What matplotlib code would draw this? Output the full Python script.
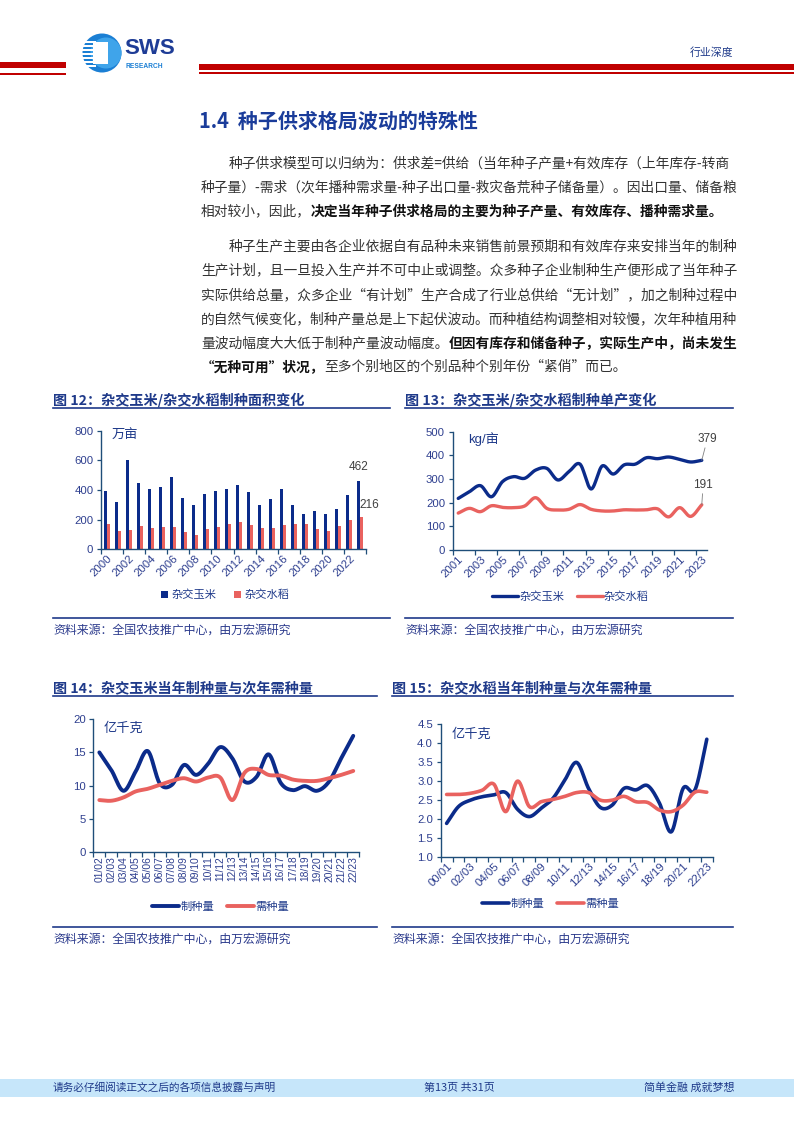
import numpy as np
import matplotlib
matplotlib.use("Agg")
import matplotlib.pyplot as plt
from matplotlib.patches import Rectangle, Circle

plt.rcParams['font.family'] = ['Noto Sans CJK SC', 'DejaVu Sans']
NUMF = ['Liberation Sans', 'Noto Sans CJK SC']

# ---------------- data ----------------
years12 = [str(y) for y in range(2000, 2024)]
corn_area = [390, 322, 600, 450, 405, 422, 487, 345, 300, 376, 390, 410, 435, 384,
             296, 342, 410, 296, 238, 256, 236, 275, 365, 462]
rice_area = [170, 122, 132, 156, 142, 150, 150, 115, 97, 135, 150, 169, 182, 164,
             142, 146, 164, 169, 171, 139, 121, 160, 198, 216]

years13 = [str(y) for y in range(2001, 2024)]
corn_yield = [218, 246, 272, 225, 289, 310, 303, 338, 345, 296, 331, 363, 258, 355,
              321, 360, 363, 390, 386, 393, 383, 372, 379]
rice_yield = [156, 176, 162, 187, 180, 179, 186, 221, 176, 169, 172, 192, 172, 165,
              165, 170, 169, 170, 174, 140, 179, 142, 191]

seasons14 = ['01/02', '02/03', '03/04', '04/05', '05/06', '06/07', '07/08', '08/09',
             '09/10', '10/11', '11/12', '12/13', '13/14', '14/15', '15/16', '16/17',
             '17/18', '18/19', '19/20', '20/21', '21/22', '22/23']
corn_prod = [15.0, 12.3, 9.2, 12.1, 15.2, 10.3, 10.1, 13.1, 11.6, 13.3, 15.8, 14.1,
             10.6, 11.3, 14.7, 10.4, 9.3, 9.9, 9.2, 10.6, 14.1, 17.5]
corn_need = [7.8, 7.7, 8.2, 9.1, 9.5, 10.1, 10.7, 11.1, 10.6, 11.2, 11.2, 7.8,
             11.9, 12.5, 11.6, 11.5, 10.9, 10.7, 10.7, 11.1, 11.6, 12.2]

seasons15 = ['00/01', '01/02', '02/03', '03/04', '04/05', '05/06', '06/07', '07/08',
             '08/09', '09/10', '10/11', '11/12', '12/13', '13/14', '14/15', '15/16',
             '16/17', '17/18', '18/19', '19/20', '20/21', '21/22', '22/23']
rice_prod = [1.89, 2.33, 2.50, 2.59, 2.64, 2.70, 2.26, 2.07, 2.29, 2.55, 3.03, 3.49,
             2.81, 2.31, 2.37, 2.81, 2.77, 2.88, 2.42, 1.67, 2.81, 2.77, 4.10]
rice_need = [2.65, 2.65, 2.68, 2.76, 2.92, 2.20, 3.00, 2.33, 2.46, 2.52, 2.60, 2.70,
             2.70, 2.50, 2.50, 2.60, 2.46, 2.44, 2.24, 2.20, 2.37, 2.71, 2.71]

# ---------------- styles ----------------
W, H = 794, 1123
NAVY = '#1F3A8A'
TICK_C = '#2E3F8F'
SPINE_C = '#1F4E79'
BLUE = '#0B2B8A'
RED = '#E9625F'
BODY = '#333333'

fig = plt.figure(figsize=(W / 100, H / 100), dpi=100)
bg = fig.add_axes([0, 0, 1, 1])
bg.set_xlim(0, W)
bg.set_ylim(H, 0)
bg.axis('off')


def rect_ax(x0, y0, x1, y1):
    return fig.add_axes([x0 / W, 1 - y1 / H, (x1 - x0) / W, (y1 - y0) / H])


def smooth(x, y, n=24):
    P = np.column_stack([np.asarray(x, float), np.asarray(y, float)])
    P = np.vstack([2 * P[0] - P[1], P, 2 * P[-1] - P[-2]])
    out = []
    t = np.linspace(0, 1, n, endpoint=False)[:, None]
    for i in range(1, len(P) - 2):
        p0, p1, p2, p3 = P[i - 1], P[i], P[i + 1], P[i + 2]
        out.append(0.5 * ((2 * p1) + (-p0 + p2) * t + (2 * p0 - 5 * p1 + 4 * p2 - p3) * t ** 2
                          + (-p0 + 3 * p1 - 3 * p2 + p3) * t ** 3))
    out.append(P[-2][None, :])
    a = np.vstack(out)
    return a[:, 0], a[:, 1]


def style_ax(ax):
    ax.set_facecolor('none')
    for s in ['top', 'right']:
        ax.spines[s].set_visible(False)
    for s in ['left', 'bottom']:
        ax.spines[s].set_color(SPINE_C)
        ax.spines[s].set_linewidth(1.0)
    ax.tick_params(axis='y', direction='out', length=3, width=0.9, color=SPINE_C,
                   labelsize=8.2, labelcolor=TICK_C, pad=2.5)
    ax.tick_params(axis='x', which='major', length=0, labelcolor=TICK_C, pad=3)
    ax.tick_params(axis='x', which='minor', direction='out', length=3.5, width=0.9,
                   color=SPINE_C)


# ---------------- header ----------------
bg.add_patch(Rectangle((0, 62), 66, 5.5, color='#C00000', lw=0))
bg.add_patch(Rectangle((0, 72.5), 66, 2, color='#C00000', lw=0))
bg.add_patch(Rectangle((199, 64), W - 199, 6, color='#C00000', lw=0))
bg.add_patch(Rectangle((199, 71.8), W - 199, 2, color='#C00000', lw=0))
# logo
bg.add_patch(Circle((102, 53), 19.5, color='#1B7FD4', lw=0))
bg.add_patch(Circle((106, 53), 15.5, color='#3FA4EA', lw=0))
bg.add_patch(Rectangle((93, 42), 15, 22, color='white', lw=0))
for yy in [41, 45, 49, 53, 57, 61, 65]:
    bg.add_patch(Rectangle((82, yy), 14, 1.6, color='white', lw=0))
bg.text(124, 49, 'SWS', fontsize=16, fontweight='bold', color='#1E3C96',
        family=['Liberation Sans'], ha='left', va='center')
bg.text(126, 66, 'RESEARCH', fontsize=4.8, fontweight='bold', color='#1B7FD4',
        family=['Liberation Sans'], ha='left', va='center')
bg.text(733, 53, '行业深度', fontsize=7.8, color=NAVY, ha='right', va='center')

# ---------------- section title & body ----------------
bg.text(199, 121, '1.4  种子供求格局波动的特殊性', fontsize=14.4, fontweight='bold',
        color='#1A3C9A', ha='left', va='center')

renderer = fig.canvas.get_renderer()
FS = 9.9


def seg_line(x, y, segs):
    for txt, bold in segs:
        t = bg.text(x, y, txt, fontsize=FS, fontweight='bold' if bold else 'normal',
                    color='#111111' if bold else BODY, ha='left', va='center')
        bb = t.get_window_extent(renderer)
        x += bb.width


lines = [
    (229, 163.3, [('种子供求模型可以归纳为：供求差=供给（当年种子产量+有效库存（上年库存-转商', False)]),
    (201, 187.3, [('种子量）-需求（次年播种需求量-种子出口量-救灾备荒种子储备量）。因出口量、储备粮', False)]),
    (201, 211.7, [('相对较小，因此，', False), ('决定当年种子供求格局的主要为种子产量、有效库存、播种需求量。', True)]),
    (229, 246.7, [('种子生产主要由各企业依据自有品种未来销售前景预期和有效库存来安排当年的制种', False)]),
    (201, 270.7, [('生产计划，且一旦投入生产并不可中止或调整。众多种子企业制种生产便形成了当年种子', False)]),
    (201, 295.0, [('实际供给总量，众多企业“有计划”生产合成了行业总供给“无计划”，加之制种过程中', False)]),
    (201, 319.0, [('的自然气候变化，制种产量总是上下起伏波动。而种植结构调整相对较慢，次年种植用种', False)]),
    (201, 343.3, [('量波动幅度大大低于制种产量波动幅度。', False), ('但因有库存和储备种子，实际生产中，尚未发生', True)]),
    (201, 366.7, [('“无种可用”状况，', True), ('至多个别地区的个别品种个别年份“紧俏”而已。', False)]),
]
for x, y, segs in lines:
    seg_line(x, y, segs)


# ---------------- chart frames ----------------
def frame(x0, x1, ytitle, yline, ysrcline, ysrc, title):
    bg.text(x0, ytitle, title, fontsize=10.2, fontweight='bold', color=NAVY,
            ha='left', va='center')
    bg.plot([x0, x1], [yline, yline], color=NAVY, lw=1.2)
    bg.plot([x0, x1], [ysrcline, ysrcline], color=NAVY, lw=1.2)
    bg.text(x0, ysrc, '资料来源：全国农技推广中心，由万宏源研究', fontsize=8.6,
            color='#2B3A8C', ha='left', va='center')


frame(53, 390, 400, 408.3, 618.3, 630.5, '图 12：杂交玉米/杂交水稻制种面积变化')
frame(405, 733, 400, 408.3, 618.3, 630.5, '图 13：杂交玉米/杂交水稻制种单产变化')
frame(53, 377, 688.3, 696, 927, 939, '图 14：杂交玉米当年制种量与次年需种量')
frame(392, 733, 688.3, 696, 927, 939, '图 15：杂交水稻当年制种量与次年需种量')

# ---------------- chart 12 ----------------
ax = rect_ax(101, 430.7, 366, 549.3)
style_ax(ax)
x = np.arange(len(years12))
bw = 0.27
b1 = ax.bar(x - bw / 2, corn_area, width=bw, color=BLUE, lw=0, label='杂交玉米')
b2 = ax.bar(x + bw / 2, rice_area, width=bw, color=RED, lw=0, label='杂交水稻')
ax.set_xlim(-0.5, len(years12) - 0.5)
ax.set_ylim(0, 800)
ax.set_yticks([0, 200, 400, 600, 800])
ax.set_xticks(x[::2])
ax.set_xticklabels(years12[::2], rotation=45, ha='right', va='top',
                   rotation_mode='anchor', fontsize=8.2, family=NUMF)
ax.set_xticks(np.arange(-0.5, len(years12), 2), minor=True)
for lab in ax.get_yticklabels():
    lab.set_family(NUMF)
ax.text(0.04, 0.96, '万亩', transform=ax.transAxes, fontsize=9.5, color=NAVY,
        ha='left', va='center')
ax.annotate('462', (x[-1] - bw / 2, corn_area[-1]), xytext=(0, 10),
            textcoords='offset points', ha='center', va='center', fontsize=8.5,
            color='#404040', family=NUMF)
ax.annotate('216', (x[-1] + bw / 2, rice_area[-1]), xytext=(5, 9),
            textcoords='offset points', ha='center', va='center', fontsize=8.5,
            color='#404040', family=NUMF)
ax.legend(handles=[b1, b2], loc='center', bbox_to_anchor=(225 / W, 1 - 595 / H),
          bbox_transform=fig.transFigure, ncol=2, frameon=False, fontsize=8.1,
          handlelength=0.6, handleheight=0.6, handletextpad=0.3, columnspacing=1.6,
          labelcolor=NAVY)

# ---------------- chart 13 ----------------
ax = rect_ax(452.7, 431.7, 707.3, 550)
style_ax(ax)
x = np.arange(len(years13))
sx, sy = smooth(x, corn_yield)
l1, = ax.plot(sx, sy, color=BLUE, lw=2.4, solid_capstyle='round', label='杂交玉米')
sx, sy = smooth(x, rice_yield)
l2, = ax.plot(sx, sy, color=RED, lw=2.4, solid_capstyle='round', label='杂交水稻')
ax.set_xlim(-0.5, len(years13) - 0.5)
ax.set_ylim(0, 500)
ax.set_yticks(range(0, 501, 100))
ax.set_xticks(x[::2])
ax.set_xticklabels(years13[::2], rotation=45, ha='right', va='top',
                   rotation_mode='anchor', fontsize=8.2, family=NUMF)
ax.set_xticks(np.arange(-0.5, len(years13), 2), minor=True)
for lab in ax.get_yticklabels():
    lab.set_family(NUMF)
ax.text(0.06, 0.94, 'kg/亩', transform=ax.transAxes, fontsize=9.5, color=NAVY,
        ha='left', va='center', family=['Liberation Sans', 'Noto Sans CJK SC'])
ax.annotate('379', (x[-1], corn_yield[-1]), xytext=(4, 11), textcoords='offset points',
            ha='center', va='bottom', fontsize=8.5, color='#404040', family=NUMF,
            arrowprops=dict(arrowstyle='-', color='#808080', lw=0.6, shrinkA=0, shrinkB=0),
            annotation_clip=False)
ax.annotate('191', (x[-1], rice_yield[-1]), xytext=(1, 10), textcoords='offset points',
            ha='center', va='bottom', fontsize=8.5, color='#404040', family=NUMF,
            arrowprops=dict(arrowstyle='-', color='#808080', lw=0.6, shrinkA=0, shrinkB=0),
            annotation_clip=False)
ax.legend(handles=[l1, l2], loc='center', bbox_to_anchor=(570.5 / W, 1 - 597 / H),
          bbox_transform=fig.transFigure, ncol=2, frameon=False, fontsize=8.1,
          handlelength=2.3, handletextpad=0.1, columnspacing=1.1, labelcolor=NAVY)

# ---------------- chart 14 ----------------
ax = rect_ax(93.3, 719.3, 359.3, 851.7)
style_ax(ax)
x = np.arange(len(seasons14))
sx, sy = smooth(x, corn_prod)
l1, = ax.plot(sx, sy, color=BLUE, lw=2.8, solid_capstyle='round', label='制种量')
sx, sy = smooth(x, corn_need)
l2, = ax.plot(sx, sy, color=RED, lw=2.8, solid_capstyle='round', label='需种量')
ax.set_xlim(-0.5, len(seasons14) - 0.5)
ax.set_ylim(0, 20)
ax.set_yticks(range(0, 21, 5))
ax.set_xticks(x)
ax.set_xticklabels(seasons14, rotation=90, ha='center', va='top', fontsize=7.4,
                   family=NUMF)
ax.set_xticks(np.arange(-0.5, len(seasons14), 1), minor=True)
for lab in ax.get_yticklabels():
    lab.set_family(NUMF)
ax.text(0.04, 0.93, '亿千克', transform=ax.transAxes, fontsize=9.5, color=NAVY,
        ha='left', va='center')
ax.legend(handles=[l1, l2], loc='center', bbox_to_anchor=(220.5 / W, 1 - 907 / H),
          bbox_transform=fig.transFigure, ncol=2, frameon=False, fontsize=8.1,
          handlelength=2.4, handletextpad=0.1, columnspacing=1.1, labelcolor=NAVY)

# ---------------- chart 15 ----------------
ax = rect_ax(440.7, 724, 712.7, 857.3)
style_ax(ax)
x = np.arange(len(seasons15))
sx, sy = smooth(x, rice_prod)
l1, = ax.plot(sx, sy, color=BLUE, lw=2.6, solid_capstyle='round', label='制种量')
sx, sy = smooth(x, rice_need)
l2, = ax.plot(sx, sy, color=RED, lw=2.6, solid_capstyle='round', label='需种量')
ax.set_xlim(-0.5, len(seasons15) - 0.5)
ax.set_ylim(1.0, 4.5)
yt15 = np.arange(1.0, 4.51, 0.5)
ax.set_yticks(yt15)
ax.set_yticklabels([f'{v:.1f}' for v in yt15])
ax.set_xticks(x[::2])
ax.set_xticklabels(seasons15[::2], rotation=45, ha='right', va='top',
                   rotation_mode='anchor', fontsize=8.2, family=NUMF)
ax.set_xticks(np.arange(-0.5, len(seasons15), 1), minor=True)
for lab in ax.get_yticklabels():
    lab.set_family(NUMF)
ax.text(0.04, 0.92, '亿千克', transform=ax.transAxes, fontsize=9.5, color=NAVY,
        ha='left', va='center')
ax.legend(handles=[l1, l2], loc='center', bbox_to_anchor=(550.5 / W, 1 - 904 / H),
          bbox_transform=fig.transFigure, ncol=2, frameon=False, fontsize=8.1,
          handlelength=2.4, handletextpad=0.1, columnspacing=1.1, labelcolor=NAVY)

# ---------------- footer ----------------
bg.add_patch(Rectangle((0, 1079), W, 18, color='#C6E6FA', lw=0))
bg.text(53, 1088, '请务必仔细阅读正文之后的各项信息披露与声明', fontsize=7.7, color=NAVY,
        ha='left', va='center')
bg.text(459, 1088, '第13页 共31页', fontsize=7.9, color=NAVY, ha='center', va='center')
bg.text(734, 1088, '简单金融 成就梦想', fontsize=7.9, color=NAVY, ha='right', va='center')

fig.savefig('out.png', dpi=100)
